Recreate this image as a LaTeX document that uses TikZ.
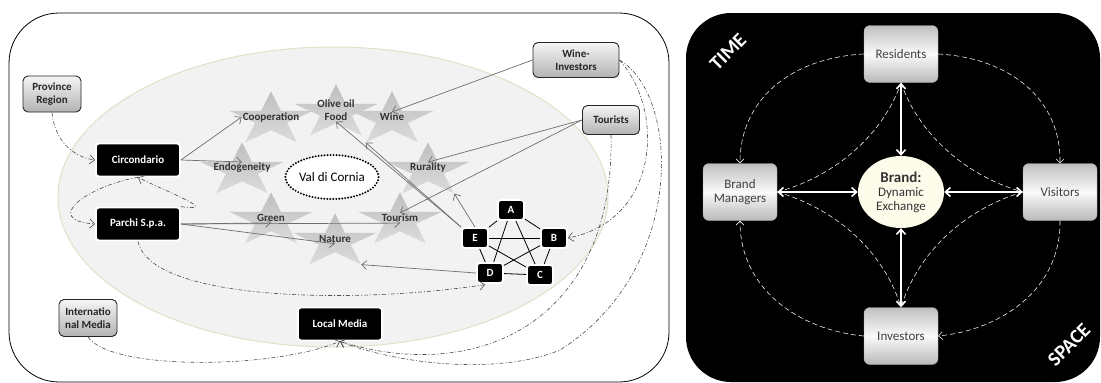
\documentclass[tikz,border=0pt]{standalone}
\usepackage{fontspec}
\setmainfont{Carlito}
\usetikzlibrary{shapes.geometric,arrows.meta}

\definecolor{ellfill}{HTML}{F2F2F2}
\definecolor{ellrim}{HTML}{E4DFC8}
\definecolor{linkgray}{HTML}{6E6E6E}
\definecolor{cream}{HTML}{FDFBEA}

\tikzset{
  graybox/.style={draw=black!85, line width=0.9pt, rounded corners=5pt, top color=gray!8, bottom color=gray!60,
    align=center, inner sep=1pt, font=\fontsize{11}{13}\selectfont\bfseries, text=black!85},
  blackbox/.style={draw=white, line width=1.8pt, fill=black, rounded corners=3pt, text=white,
    font=\fontsize{11}{13}\selectfont\bfseries, minimum width=84, minimum height=33},
  letterbox/.style={blackbox, minimum width=26, minimum height=20, inner sep=0pt},
  starbg/.style={star, star points=5, star point ratio=2.618, minimum size=88, inner sep=0pt,
    yscale=0.64, transform shape, top color=gray!50, bottom color=gray!28, draw=none},
  starlabel/.style={align=center, inner sep=1pt, font=\fontsize{11}{13}\selectfont\bfseries, text=black!80},
  link/.style={draw=linkgray, line width=0.7pt, -{Straight Barb[length=5pt,width=9pt]}},
  dashlink/.style={draw=black!70, line width=0.6pt, dash pattern=on 4pt off 2pt on 1pt off 2pt,
    -{Straight Barb[length=5pt,width=9pt]}},
  rbox/.style={draw=gray!70, rounded corners=6pt, top color=gray!50, bottom color=gray!55, middle color=gray!4,
    minimum width=74, minimum height=57, align=center, font=\fontsize{13}{14}\selectfont, text=black!75},
  exch/.style={draw=white, line width=1.6pt, {Straight Barb[length=5pt,width=9pt]}-{Straight Barb[length=5pt,width=9pt]}},
  whitedash/.style={draw=white!85!gray, line width=0.6pt, dash pattern=on 5pt off 3pt},
}

\begin{document}
\begin{tikzpicture}[x=1pt, y=-1pt]
  \useasboundingbox (0,0) rectangle (1101,383);

  % Panels
  \draw[line width=0.8pt, fill=white, rounded corners=50pt] (9,13) rectangle (669,382);
  \fill[black, rounded corners=45pt] (686,13) rectangle (1100,382);
  \draw[fill=ellfill, draw=ellrim, line width=1pt] (333,197) ellipse [x radius=275, y radius=150];

  % Stars
  \foreach \nm/\x/\y/\txt in {coop/271/117/Cooperation, olive/336/110/{Olive oil\\Food}, wine/392/117/Wine,
      endo/242/168/Endogeneity, rural/428/168/Rurality, green/271/218/Green, tour/400/218/Tourism,
      nature/335/239/Nature} {
    \node[starbg] (\nm S) at (\x,\y+2.5) {};
    \node[starlabel] (\nm) at (\x,\y) {\txt};
  }

  % Nodes
  \node[draw, line width=2.2pt, dash pattern=on 0pt off 3pt, line cap=round, fill=white, ellipse,
    minimum width=88, minimum height=44, inner sep=0pt, font=\fontsize{13}{14}\selectfont] (Val) at (332,177) {Val di Cornia};
  \node[graybox, minimum width=58, minimum height=36] (Province) at (52,94) {Province\\Region};
  \node[graybox, minimum width=58, minimum height=37] (IntMedia) at (88,318) {Internatio\\nal Media};
  \node[graybox, minimum width=86, minimum height=35] (WI) at (576,60) {Wine-\\Investors};
  \node[graybox, minimum width=57, minimum height=29] (Tourists) at (611,120) {Tourists};
  \node[blackbox] (Circ) at (138,160) {Circondario};
  \node[blackbox] (Parchi) at (138,224) {Parchi S.p.a.};
  \node[blackbox] (LocalMedia) at (340,324) {Local Media};
  \node[letterbox] (A) at (511,210) {A};
  \node[letterbox] (E) at (475,238) {E};
  \node[letterbox] (B) at (554,238) {B};
  \node[letterbox] (D) at (490,273) {D};
  \node[letterbox] (C) at (540,275) {C};

  % Network
  \foreach \u/\v in {A/E, A/B, A/D, A/C, E/B, E/C, E/D, B/D, B/C, D/C}
    \draw[black, line width=0.8pt] (\u) -- (\v);

  % Arrows
  \draw[link] (Circ.east) -- (coop.west);
  \draw[link] (Circ.east) -- (endo.north);
  \draw[link] (Parchi.east) -- (green.south);
  \draw[link] (Parchi.east) -- (tour.south);
  \draw[link] (Parchi.east) -- (nature.south);
  \draw[link] (WI.west) -- (wine.north);
  \draw[link] (Tourists.west) -- (rural.north);
  \draw[link] (Tourists.west) -- (tour.north);
  \draw[link] (E.north west) -- (olive.south);
  \draw[link] (E.north west) -- (wineS.outer point 3);
  \draw[link] (E.north) -- (ruralS.outer point 4);
  \draw[link] (D.west) -- (natureS.outer point 4);

  % Dash-dot links
  \draw[dashlink] (Province.south) .. controls (55,145) and (78,158) .. (Circ.west);
  \draw[dashlink] (Parchi.north east) .. controls (220,212) and (172,194) .. (Circ.south);
  \draw[dashlink] (Circ.south) .. controls (90,185) and (40,220) .. (Parchi.west);
  \draw[dashlink, shorten >=5pt] (Parchi.south) .. controls (150,300) and (350,305) .. (D.south);
  \draw[dashlink] (IntMedia.south) .. controls (110,370) and (270,370) .. (LocalMedia.south);
  \draw[dashlink] (Tourists.south) .. controls (615,320) and (480,385) .. (LocalMedia.south);
  \draw[dashlink] (WI.east) .. controls (680,95) and (687,270) .. (560,350) .. controls (500,375) and (400,365) .. (LocalMedia.south);
  \draw[dashlink] (WI.east) .. controls (665,110) and (660,220) .. (B.east);

  % Right panel
  \node[rbox] (Res) at (901,54) {Residents};
  \node[rbox] (BM) at (740,192) {Brand\\Managers};
  \node[rbox] (Vis) at (1060,192) {Visitors};
  \node[rbox] (Inv) at (901,336) {Investors};
  \node[ellipse, fill=cream, minimum width=86, minimum height=72, inner sep=0pt, align=center,
    font=\fontsize{13}{14}\selectfont, text=black!80] (Brand) at (901,192)
    {{\fontsize{15}{16}\selectfont\bfseries Brand:}\\Dynamic\\Exchange};
  \node[rotate=45, text=white, font=\fontsize{20}{20}\selectfont\bfseries] (Time) at (728,52) {TIME};
  \node[rotate=45, text=white, font=\fontsize{20}{20}\selectfont\bfseries] (Space) at (1069,345) {SPACE};

  \draw[whitedash] (BM.east) .. controls (840,175) and (885,130) .. (Res.south);
  \draw[whitedash] (Res.south) .. controls (917,130) and (962,175) .. (Vis.west);
  \draw[whitedash] (BM.east) .. controls (840,210) and (885,255) .. (Inv.north);
  \draw[whitedash] (Vis.west) .. controls (962,210) and (917,255) .. (Inv.north);
  \draw[whitedash, -{Straight Barb[length=4pt,width=8pt]}] (Res.west) .. controls (790,58) and (740,100) .. (BM.north);
  \draw[whitedash, -{Straight Barb[length=4pt,width=8pt]}] (Res.east) .. controls (1011,58) and (1061,100) .. (Vis.north);
  \draw[whitedash, -{Straight Barb[length=4pt,width=8pt]}] (Vis.south) .. controls (1061,290) and (1000,330) .. (Inv.east);
  \draw[whitedash, -{Straight Barb[length=4pt,width=8pt]}] (Inv.west) .. controls (800,330) and (740,290) .. (BM.south);

  \draw[exch] (Res) -- (Brand);
  \draw[exch] (Brand) -- (Inv);
  \draw[exch] (BM) -- (Brand);
  \draw[exch] (Brand) -- (Vis);
\end{tikzpicture}
\end{document}
